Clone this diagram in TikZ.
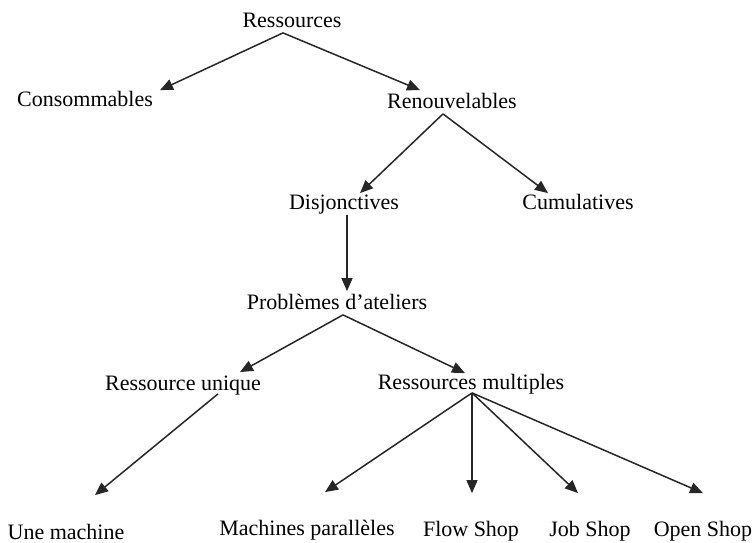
\documentclass[tikz,border=0pt]{standalone}
\usepackage{fontspec}
\setmainfont{Liberation Serif}
\usetikzlibrary{arrows.meta}

\begin{document}
\begin{tikzpicture}[x=0.5pt, y=-0.5pt, font=\fontsize{11}{13}\selectfont,
  lbl/.style={inner sep=0pt, text height=7.2pt, text depth=2.3pt},
  arr/.style={-{Triangle[length=6.5pt,width=5.5pt]}, line width=0.75pt, black!85}]
\useasboundingbox (0,0) rectangle (755,542);

  %% Levels of the tree, top to bottom
  \node[lbl] (res)  at (292,23)  {Ressources};
  \node[lbl] (cons) at (85,102)  {Consommables};
  \node[lbl] (ren)  at (452,104) {Renouvelables};
  \node[lbl] (disj) at (344,205) {Disjonctives};
  \node[lbl] (cumu) at (578,205) {Cumulatives};
  \node[lbl] (prob) at (337,305) {Problèmes d’ateliers};
  \node[lbl] (uniq) at (183,386) {Ressource unique};
  \node[lbl] (mult) at (471,385) {Ressources multiples};

  %% Leaves
  \node[lbl] (une)  at (66,535)  {Une machine};
  \node[lbl] (para) at (307,531) {Machines parallèles};
  \node[lbl] (flow) at (471,532) {Flow Shop};
  \node[lbl] (job)  at (590,532) {Job Shop};
  \node[lbl] (open) at (703,532) {Open Shop};

  %% Arrows
  \draw[arr] ([xshift=-4.5pt]res.south) -- ([xshift=37.5pt,yshift=1pt]cons.north);
  \draw[arr] ([xshift=-4.5pt]res.south) -- ([xshift=-16pt,yshift=2pt]ren.north);
  \draw[arr] ([xshift=-4.5pt]ren.south) -- ([xshift=8pt,yshift=1pt]disj.north);
  \draw[arr] ([xshift=-4.5pt]ren.south) -- ([xshift=-15pt,yshift=1pt]cumu.north);
  \draw[arr] ([xshift=1.5pt]disj.south) -- ([xshift=5pt,yshift=2pt]prob.north);
  \draw[arr] ([xshift=3pt]prob.south) -- ([xshift=28.5pt,yshift=2pt]uniq.north);
  \draw[arr] ([xshift=3pt]prob.south) -- ([xshift=-3pt,yshift=1pt]mult.north);
  \draw[arr] ([xshift=17.5pt,yshift=1pt]uniq.south) -- ([xshift=14.5pt,yshift=15pt]une.north);
  \foreach \dst/\dx in {para/9pt, flow/0.5pt, job/-6pt, open/0pt}
    \draw[arr] ([xshift=0.5pt,yshift=1pt]mult.south) -- ([xshift=\dx,yshift=14.5pt]\dst.north);
\end{tikzpicture}
\end{document}
